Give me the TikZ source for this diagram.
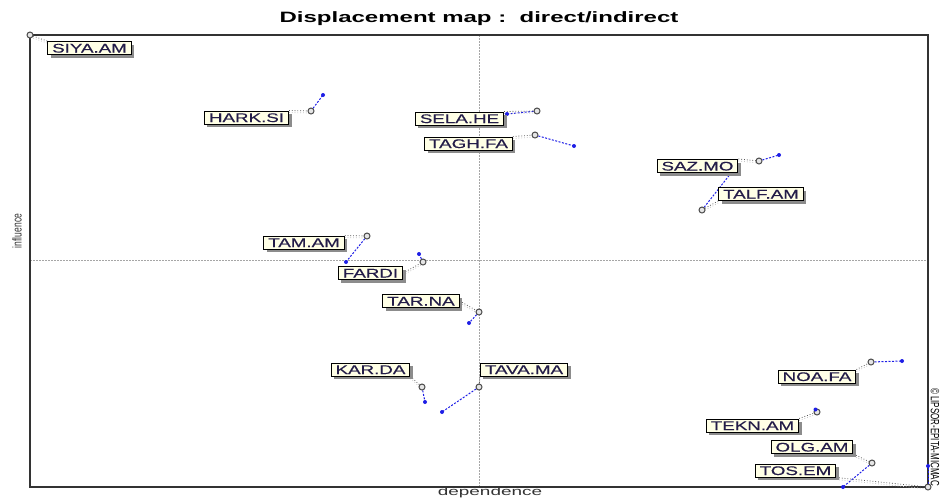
\documentclass[tikz,border=0pt]{standalone}
\usepackage{fontspec}
\setmainfont{Liberation Sans}
\newfontfamily\labelfont[FakeBold=0.35]{Liberation Sans}
\usetikzlibrary{shadows}
\pgfdeclarelayer{back}
\pgfsetlayers{back,main}
\definecolor{cream}{HTML}{FFFFE6}
\definecolor{labtxt}{HTML}{231C48}
\definecolor{dotblue}{HTML}{1E1EE6}
\definecolor{framegray}{HTML}{333333}
\newcommand{\hstretch}[1]{\scalebox{1.5}[1]{#1}}

\begin{document}
\begin{tikzpicture}[x=1pt,y=-1pt,
  varlabel/.style={draw=black, line width=1pt, fill=cream, inner xsep=4.5pt, inner ysep=2pt,
    text height=9pt, text depth=0pt, font=\labelfont\fontsize{12.5}{14}\selectfont, text=labtxt,
    drop shadow={shadow xshift=3pt, shadow yshift=-3pt, fill=black!45, opacity=1}},
  direct/.style={circle, draw=black!70, fill=gray!20, line width=1pt, inner sep=0pt, minimum size=6pt},
  indirect/.style={circle, fill=dotblue, inner sep=0pt, minimum size=4pt},
  shiftline/.style={draw=dotblue, dash pattern=on 2pt off 1.5pt, line width=1pt},
  tether/.style={draw=gray!70!black, dotted, line width=0.8pt},
  tethershade/.style={draw=gray!45, dotted, line width=0.8pt},
  axisline/.style={draw=gray!70, dash pattern=on 1.5pt off 1.5pt, line width=0.8pt},
]
\useasboundingbox (0,0) rectangle (940,499);

% title and axis captions
\node[font=\bfseries\fontsize{15}{18}\selectfont] (title) at (479,18.5)
  {\scalebox{1.6}[1]{Displacement map :\ \ direct/indirect}};
\node[font=\fontsize{11.5}{13}\selectfont, text=black!80] (xlab) at (490,493)
  {\scalebox{1.65}[1]{dependence}};
\node[rotate=90, font=\fontsize{8.5}{10}\selectfont, text=black!80] (ylab) at (17,231)
  {\scalebox{1}[1.5]{influence}};
\node[rotate=-90, font=\fontsize{8}{10}\selectfont] (copy) at (935,437)
  {\scalebox{1}[1.5]{© LIPSOR-EPITA-MICMAC}};

% plot frame and mean axes
\coordinate (axtop) at (479,35);
\coordinate (axbot) at (479,487);
\coordinate (axleft) at (30,260);
\coordinate (axright) at (928,260);
\begin{pgfonlayer}{back}
  \draw[axisline] (axtop) -- (axbot);
  \draw[axisline] (axleft) -- (axright);
  \draw[framegray, line width=1.2pt] (30,35) rectangle (928,487);
\end{pgfonlayer}

% direct positions (open circles)
\node[direct] (siya-d) at (30,35) {};
\node[direct] (hark-d) at (311,111) {};
\node[direct] (sela-d) at (537,111) {};
\node[direct] (tagh-d) at (535,135) {};
\node[direct] (saz-d)  at (759,161) {};
\node[direct] (talf-d) at (702,210) {};
\node[direct] (tam-d)  at (367,236) {};
\node[direct] (fard-d) at (423,262) {};
\node[direct] (tar-d)  at (479,312) {};
\node[direct] (kar-d)  at (422,387) {};
\node[direct] (tava-d) at (479,387) {};
\node[direct] (noa-d)  at (871,362) {};
\node[direct] (tekn-d) at (817,412) {};
\node[direct] (olg-d)  at (872,463) {};
\node[direct] (tos-d)  at (928,487) {};

% indirect positions (blue dots)
\node[indirect] (hark-i) at (323,95) {};
\node[indirect] (sela-i) at (507,114) {};
\node[indirect] (tagh-i) at (574,146) {};
\node[indirect] (saz-i)  at (779,155) {};
\node[indirect] (talf-i) at (735,168) {};
\node[indirect] (tam-i)  at (346,262) {};
\node[indirect] (fard-i) at (419,254) {};
\node[indirect] (tar-i)  at (469,323) {};
\node[indirect] (kar-i)  at (425,402) {};
\node[indirect] (tava-i) at (442,412) {};
\node[indirect] (noa-i)  at (902,361) {};
\node[indirect] (tekn-i) at (815.5,409.5) {};
\node[indirect] (olg-i)  at (843,487) {};
\node[indirect] (tos-i)  at (928,466) {};

% variable labels
\node[varlabel] (siya) at (89.5,48)    {\hstretch{SIYA.AM}};
\node[varlabel] (hark) at (246.5,117.5) {\hstretch{HARK.SI}};
\node[varlabel] (sela) at (459.5,118.5) {\hstretch{SELA.HE}};
\node[varlabel] (tagh) at (468.5,143.5) {\hstretch{TAGH.FA}};
\node[varlabel] (talf) at (761,194)    {\hstretch{TALF.AM}};
\node[varlabel] (saz)  at (697.5,166)  {\hstretch{SAZ.MO}};
\node[varlabel] (tam)  at (304,242.5)  {\hstretch{TAM.AM}};
\node[varlabel] (fard) at (370.5,273)  {\hstretch{FARDI}};
\node[varlabel] (tar)  at (421,301)    {\hstretch{TAR.NA}};
\node[varlabel] (kar)  at (370.5,369.5) {\hstretch{KAR.DA}};
\node[varlabel] (tava) at (524,369.5)  {\hstretch{TAVA.MA}};
\node[varlabel] (noa)  at (817,376.5)  {\hstretch{NOA.FA}};
\node[varlabel] (tekn) at (752.5,425.5) {\hstretch{TEKN.AM}};
\node[varlabel] (olg)  at (812,447)    {\hstretch{OLG.AM}};
\node[varlabel] (tos)  at (795.5,470.5) {\hstretch{TOS.EM}};

% displacement lines and label tethers
\begin{pgfonlayer}{back}
  \foreach \v in {hark,sela,tagh,saz,talf,tam,fard,tar,kar,tava,noa,tekn,olg,tos}
    \draw[shiftline] (\v-d.center) -- (\v-i.center);
  \foreach \v/\a in {siya/north west, hark/north east, sela/north east, tagh/north east,
                     saz/north east, talf/south west, tam/north east, fard/east,
                     tar/east, kar/south east, tava/south west, noa/north east,
                     tekn/north east, olg/south east, tos/south east}
  {
    \draw[tethershade] ([yshift=-2pt]\v.\a) -- ([yshift=-2pt]\v-d.center);
    \draw[tether] (\v.\a) -- (\v-d.center);
  }
\end{pgfonlayer}
\end{tikzpicture}
\end{document}
